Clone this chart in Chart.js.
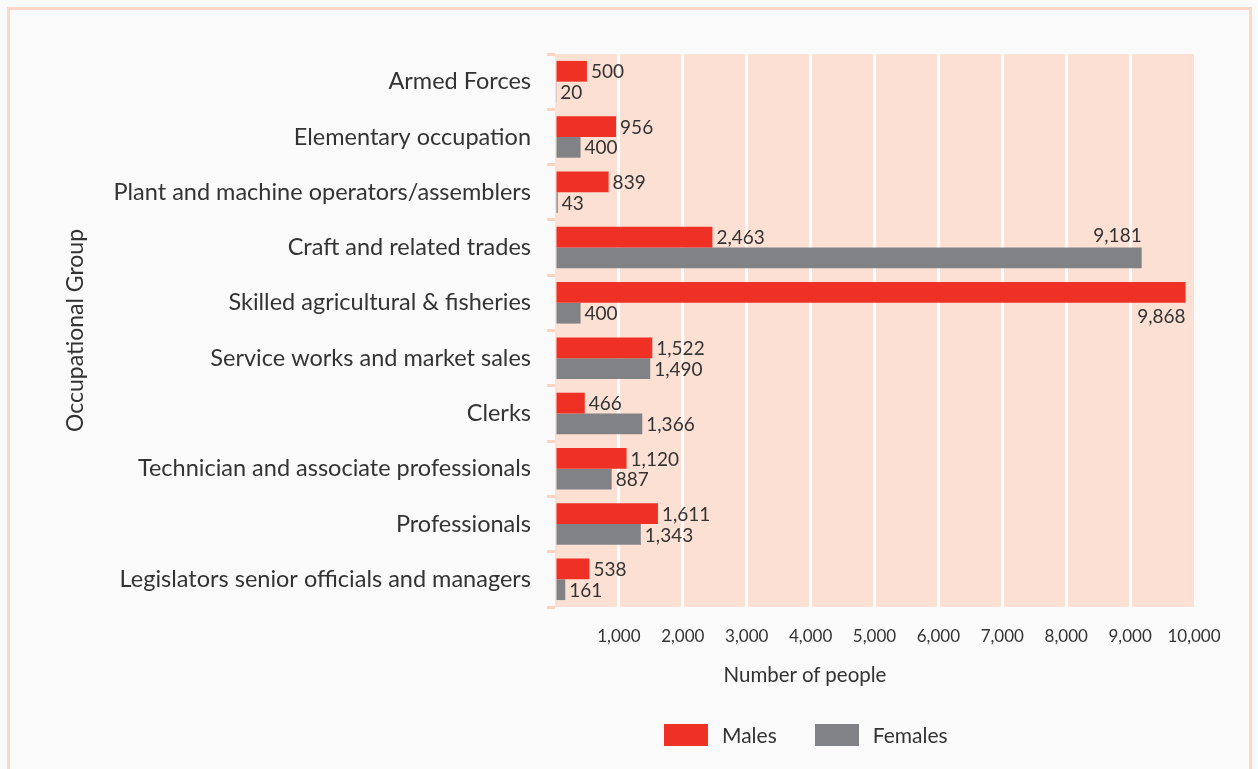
<!DOCTYPE html>
<html>
<head>
<meta charset="utf-8">
<script src="https://cdn.jsdelivr.net/npm/chart.js@4.4.1/dist/chart.umd.min.js"></script>
<style>
  html, body { margin: 0; padding: 0; background: #fafafa; }
  body { width: 1258px; height: 769px; position: relative; overflow: hidden; font-family: Lato, "Open Sans", sans-serif; }
  .frame { position: absolute; left: 7px; top: 7px; width: 1245px; height: 800px;
           border: 3px solid #fdd6c6; border-bottom: none; box-sizing: border-box; }
  .wrap { position: absolute; left: 0; top: 0; width: 1258px; height: 769px; }
  .xtitle { position: absolute; top: 662px; left: 705px; width: 200px; text-align: center; color: #333; font-size: 20.5px; }
  .legend { position: absolute; top: 722px; left: 664px; display: flex; align-items: center; color: #333; font-size: 21px; }
  .legend .box { width: 44px; height: 22px; display: inline-block; margin-right: 14px; }
  .legend .item { display: flex; align-items: center; margin-right: 38px; }
</style>
</head>
<body>
<div class="frame"></div>
<div class="wrap"><canvas id="bars"></canvas></div>
<div class="xtitle">Number of people</div>
<div class="legend">
  <div class="item"><span class="box" style="background:#ee3124"></span>Males</div>
  <div class="item"><span class="box" style="background:#808285"></span>Females</div>
</div>
<script>
// occupational groups, top to bottom as in the report
const groups = [
  'Armed Forces',
  'Elementary occupation',
  'Plant and machine operators/assemblers',
  'Craft and related trades',
  'Skilled agricultural & fisheries',
  'Service works and market sales',
  'Clerks',
  'Technician and associate professionals',
  'Professionals',
  'Legislators senior officials and managers'
]
const males = [500, 956, 839, 2463, 9868, 1522, 466, 1120, 1611, 538]
const females = [20, 400, 43, 9181, 400, 1490, 1366, 887, 1343, 161]
const xTicks = [1000, 2000, 3000, 4000, 5000, 6000, 7000, 8000, 9000, 10000]

const textColor = '#333333'
const pink = '#fde0d4'
const fontFamily = 'Lato, "Open Sans", sans-serif'

// fills the plot area with the pale pink panel
const panelBg = {
  id: 'panelBg',
  beforeDraw(chart) {
    const a = chart.chartArea
    const ctx = chart.ctx
    ctx.save()
    ctx.fillStyle = pink
    ctx.fillRect(a.left, a.top, a.right - a.left, a.bottom - a.top)
    ctx.restore()
  }
}

// value labels next to the bars
const barValues = {
  id: 'barValues',
  afterDatasetsDraw(chart) {
    const ctx = chart.ctx
    ctx.save()
    ctx.font = '19px ' + fontFamily
    ctx.fillStyle = textColor
    ctx.textBaseline = 'middle'
    chart.data.datasets.forEach((ds, di) => {
      chart.getDatasetMeta(di).data.forEach((bar, i) => {
        const v = ds.data[i]
        const txt = v.toLocaleString('en-US')
        if (v > 9000) {
          // long bars: label sits above/below the bar end
          ctx.textAlign = 'right'
          ctx.fillText(txt, bar.x, bar.y + (di === 0 ? 24 : -22))
        } else {
          ctx.textAlign = 'left'
          ctx.fillText(txt, bar.x + 4, bar.y + 1)
        }
      })
    })
    ctx.restore()
  }
}

const barConfig = {
  type: 'bar',
  data: {
    labels: groups,
    datasets: [
      { label: 'Males', data: males, backgroundColor: '#ee3124', barPercentage: 1.0, categoryPercentage: 0.75 },
      { label: 'Females', data: females, backgroundColor: '#808285', barPercentage: 1.0, categoryPercentage: 0.75 }
    ]
  },
  options: {
    indexAxis: 'y',
    responsive: true,
    maintainAspectRatio: false,
    animation: false,
    layout: { padding: { left: 62, top: 54, right: 64, bottom: 123 } },
    plugins: {
      legend: { display: false },
      tooltip: { enabled: false }
    },
    scales: {
      x: {
        min: 0,
        max: 10000,
        afterBuildTicks(scale) {
          scale.ticks = [0].concat(xTicks).map(v => ({ value: v }))
        },
        afterFit(scale) { scale.height = 39 },
        ticks: {
          color: textColor,
          font: { family: fontFamily, size: 17 },
          padding: 19,
          callback: v => (v === 0 ? '' : v.toLocaleString('en-US'))
        },
        grid: {
          color: c => (c.tick && (c.tick.value === 0 || c.tick.value === 10000) ? 'rgba(0,0,0,0)' : '#ffffff'),
          lineWidth: 3,
          drawTicks: false
        },
        border: { display: false }
      },
      y: {
        afterFit(scale) { scale.width = 555 - 62 },
        ticks: {
          color: textColor,
          font: { family: fontFamily, size: 23.5 },
          padding: 16
        },
        grid: {
          drawOnChartArea: false,
          color: '#fdd2c0',
          lineWidth: 3,
          tickLength: 8
        },
        border: { display: false },
        title: {
          display: true,
          text: 'Occupational Group',
          color: textColor,
          font: { family: fontFamily, size: 23 },
          padding: { top: 0, bottom: 0 }
        }
      }
    }
  },
  plugins: [panelBg, barValues]
}

const barCtx = document.getElementById('bars')
window.myBars = new Chart(barCtx, barConfig)
</script>
</body>
</html>
